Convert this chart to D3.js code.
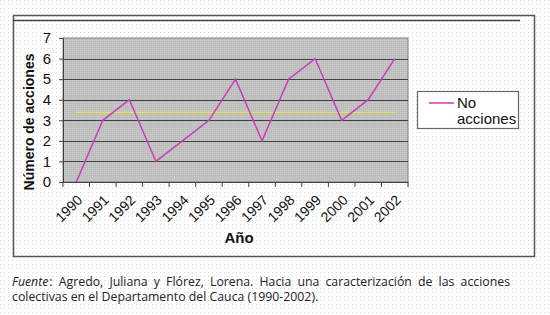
<!DOCTYPE html>
<html>
<head>
  <meta charset="utf-8">
  <title>Número de acciones</title>
  <style>
    body { margin: 0; width: 550px; height: 315px; position: relative; overflow: hidden; background: #fff; }
    svg { position: absolute; left: 0; top: 0; }
    .fuente {
      position: absolute;
      left: 12px;
      top: 274px;
      width: 498px;
      font-family: "Open Sans", sans-serif;
      font-size: 12.3px;
      line-height: 15px;
      color: #222;
      text-align: justify;
    }
    .fuente i { margin-right: 1px; }
  </style>
</head>
<body>
  <svg id="chart" width="550" height="315"></svg>
  <div class="fuente"><i>Fuente</i>: Agredo, Juliana y Flórez, Lorena. Hacia una caracterización de las acciones colectivas en el Departamento del Cauca (1990-2002).</div>

  <script src="https://d3js.org/d3.v7.min.js"></script>
  <script>
    // datos
    const years = ["1990", "1991", "1992", "1993", "1994", "1995", "1996", "1997", "1998", "1999", "2000", "2001", "2002"];
    const acciones = [0, 3, 4, 1, 2, 3, 5, 2, 5, 6, 3, 4, 6];
    const promedio = 3.38;
    const yTicks = [0, 1, 2, 3, 4, 5, 6, 7];

    const svg = d3.select("#chart");
    const defs = svg.append("defs");

    // fondo punteado
    const bg = defs.append("pattern").attr("id", "dots")
      .attr("width", 4).attr("height", 4).attr("patternUnits", "userSpaceOnUse");
    bg.append("rect").attr("width", 4).attr("height", 4).attr("fill", "#fff");
    bg.append("rect").attr("width", 1).attr("height", 1).attr("fill", "#d8d8d8");

    const pg = defs.append("pattern").attr("id", "plotbg")
      .attr("width", 2).attr("height", 2).attr("patternUnits", "userSpaceOnUse");
    pg.append("rect").attr("width", 2).attr("height", 2).attr("fill", "#bdbdbd");
    pg.append("rect").attr("width", 1).attr("height", 1).attr("fill", "#cbcbcb");

    svg.append("rect").attr("width", 550).attr("height", 315).attr("fill", "url(#dots)");

    // marco
    svg.append("rect")
      .attr("x", 13.5).attr("y", 15.5).attr("width", 521).attr("height", 241)
      .attr("fill", "none").attr("stroke", "#555").attr("stroke-width", 1.5);
    svg.append("line")
      .attr("x1", 13).attr("x2", 520).attr("y1", 20.5).attr("y2", 20.5)
      .attr("stroke", "#4a3a3a").attr("stroke-width", 1.5);

    const pLeft = 63, pRight = 408, pTop = 38, pBottom = 182;

    const x = d3.scaleBand().domain(years).range([pLeft, pRight]);
    const y = d3.scaleLinear().domain([0, 7]).range([pBottom, pTop]);

    svg.append("rect")
      .attr("x", pLeft).attr("y", pTop)
      .attr("width", pRight - pLeft).attr("height", pBottom - pTop)
      .attr("fill", "url(#plotbg)")
      .attr("stroke", "#808080");

    // lineas de cuadricula
    svg.append("g")
      .selectAll("line")
      .data(yTicks.slice(1, -1))
      .join("line")
      .attr("x1", pLeft).attr("x2", pRight)
      .attr("y1", d => Math.round(y(d)) + 0.5).attr("y2", d => Math.round(y(d)) + 0.5)
      .attr("stroke", "#404040").attr("stroke-width", 1.2);

    // eje y
    const gy = svg.append("g")
      .attr("transform", `translate(${pLeft},0)`)
      .call(d3.axisLeft(y).tickValues(yTicks).tickFormat(d3.format("d")).tickSize(4).tickPadding(8));
    gy.select(".domain").attr("stroke", "#404040");
    gy.selectAll("line").attr("stroke", "#404040");
    gy.selectAll("text")
      .attr("font-family", "Liberation Sans, Arial, sans-serif")
      .attr("font-size", 15).attr("fill", "#111");

    // eje x (marcas entre categorias)
    const gx = svg.append("g")
      .attr("transform", `translate(0,${pBottom})`)
      .call(d3.axisBottom(x).tickSize(0).tickPadding(0));
    gx.select(".domain").attr("stroke", "#404040");
    gx.selectAll("text")
      .attr("font-family", "Liberation Sans, Arial, sans-serif")
      .attr("font-size", 14).attr("fill", "#111")
      .attr("text-anchor", "end")
      .attr("x", 0).attr("y", 0).attr("dy", 0)
      .attr("transform", "translate(7,19) rotate(-45)");

    svg.append("g")
      .selectAll("line")
      .data(years.concat(["end"]))
      .join("line")
      .attr("x1", (d, i) => pLeft + i * x.bandwidth())
      .attr("x2", (d, i) => pLeft + i * x.bandwidth())
      .attr("y1", pBottom).attr("y2", pBottom + 5)
      .attr("stroke", "#404040");

    // linea promedio
    svg.append("line")
      .attr("x1", x(years[0]) + x.bandwidth() / 2)
      .attr("x2", x(years[years.length - 1]) + x.bandwidth() / 2)
      .attr("y1", y(promedio)).attr("y2", y(promedio))
      .attr("stroke", "#e6e646").attr("stroke-width", 1.3);

    // serie
    const line = d3.line()
      .x((d, i) => x(years[i]) + x.bandwidth() / 2)
      .y(d => y(d));
    svg.append("path")
      .datum(acciones)
      .attr("d", line)
      .attr("fill", "none")
      .attr("stroke", "#c83cbc")
      .attr("stroke-width", 1.5);

    // titulos
    svg.append("text")
      .attr("transform", "translate(34,122) rotate(-90)")
      .attr("text-anchor", "middle")
      .attr("font-family", "Liberation Sans, Arial, sans-serif")
      .attr("font-weight", "bold").attr("font-size", 14).attr("fill", "#111")
      .text("Número de acciones");

    svg.append("text")
      .attr("x", 239).attr("y", 243)
      .attr("text-anchor", "middle")
      .attr("font-family", "Liberation Sans, Arial, sans-serif")
      .attr("font-weight", "bold").attr("font-size", 15).attr("fill", "#111")
      .text("Año");

    // leyenda
    const lg = svg.append("g");
    lg.append("rect")
      .attr("x", 417.5).attr("y", 91.5).attr("width", 101).attr("height", 37)
      .attr("fill", "#fff").attr("stroke", "#666").attr("stroke-width", 1.2);
    lg.append("line")
      .attr("x1", 429).attr("x2", 454).attr("y1", 103).attr("y2", 103)
      .attr("stroke", "#c83cbc").attr("stroke-width", 1.5);
    lg.append("text")
      .attr("x", 457).attr("y", 108)
      .attr("font-family", "Liberation Sans, Arial, sans-serif")
      .attr("font-size", 15).attr("fill", "#111")
      .text("No");
    lg.append("text")
      .attr("x", 457).attr("y", 124)
      .attr("font-family", "Liberation Sans, Arial, sans-serif")
      .attr("font-size", 15).attr("fill", "#111")
      .text("acciones");
  </script>
</body>
</html>
